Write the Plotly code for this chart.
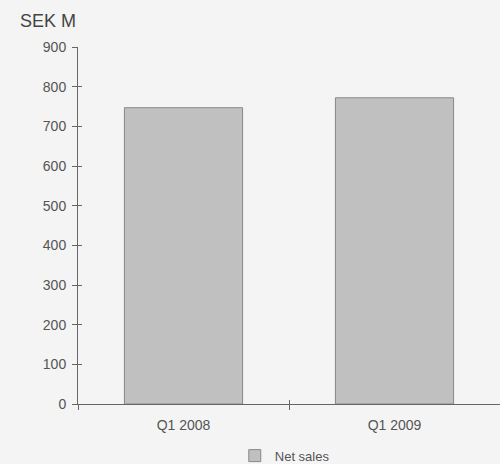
import plotly.graph_objects as go

categories = ["Q1 2008", "Q1 2009"]
net_sales = [747, 772]
y_ticks = [0, 100, 200, 300, 400, 500, 600, 700, 800, 900]

font_family = "Liberation Sans, Arial, sans-serif"
text_color = "#555555"
axis_color = "#666666"

fig = go.Figure()
fig.add_trace(go.Bar(
    x=categories, y=net_sales, name="Net sales",
    marker=dict(color="#c0c0c0", line=dict(color="#888888", width=1)),
    width=0.56, showlegend=True,
))
# invisible trace to anchor the overlay axes (inside tick marks)
fig.add_trace(go.Scatter(x=categories, y=net_sales, xaxis="x2", yaxis="y2", mode="none",
                         showlegend=False, hoverinfo="skip"))

fig.update_layout(
    width=500, height=464,
    paper_bgcolor="#f4f4f4", plot_bgcolor="#f4f4f4",
    margin=dict(l=78, r=0, t=47, b=60),
    font=dict(family=font_family, color=text_color, size=14),
    showlegend=True,
    legend=dict(orientation="h", x=0.49, xanchor="center", yref="container",
                y=0.018, yanchor="middle", itemwidth=30,
                font=dict(size=13, color=text_color), bgcolor="rgba(0,0,0,0)"),
    xaxis=dict(range=[-0.5, 1.5], showline=True, linecolor=axis_color, linewidth=1,
               ticks="outside", tickson="boundaries", ticklen=5, tickcolor=axis_color,
               showgrid=False, zeroline=False, ticklabelstandoff=8,
               tickfont=dict(size=14, color=text_color)),
    xaxis2=dict(range=[-0.5, 1.5], overlaying="x", side="bottom", anchor="y",
                showline=False, ticks="inside", tickson="boundaries", ticklen=4,
                tickcolor=axis_color, showticklabels=False, showgrid=False,
                zeroline=False),
    yaxis=dict(range=[0, 900], tickvals=y_ticks, showline=True, linecolor=axis_color,
               linewidth=1, ticks="outside", ticklen=5, tickcolor=axis_color,
               showgrid=False, zeroline=False, ticklabelstandoff=3,
               tickfont=dict(size=14, color=text_color)),
    yaxis2=dict(range=[0, 900], tickvals=y_ticks, overlaying="y", side="left",
                anchor="x", showline=False, ticks="inside", ticklen=4,
                tickcolor=axis_color, showticklabels=False, showgrid=False,
                zeroline=False),
    annotations=[dict(text="SEK M", xref="paper", yref="paper", x=0, y=1,
                      xshift=-60, yshift=14, xanchor="left", yanchor="bottom",
                      showarrow=False, font=dict(size=18, color="#444444"))],
)

fig.write_html("out.html")
